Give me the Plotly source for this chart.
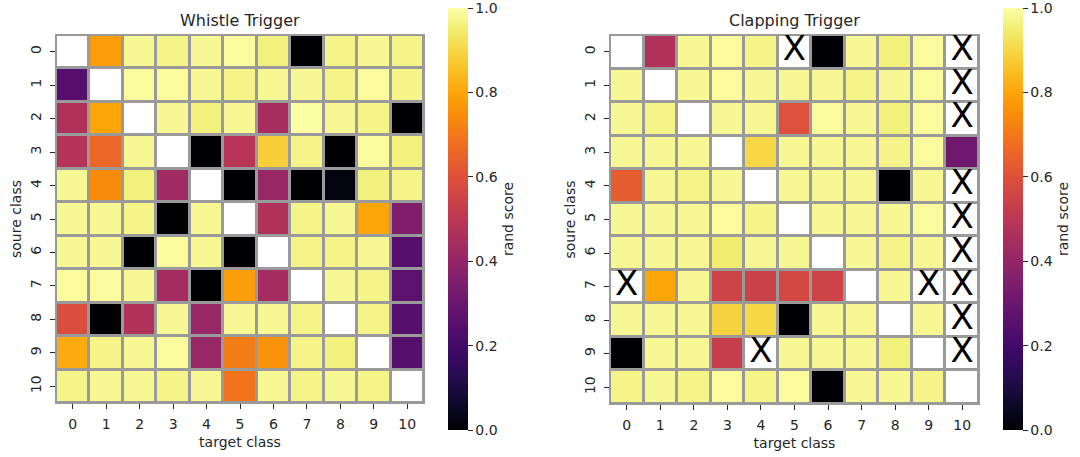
import numpy as np
import plotly.graph_objects as go

classes = [str(i) for i in range(11)]
N = np.nan

whistle = [
    [N, 0.78, 0.98, 0.97, 0.98, 0.99, 0.96, 0.00, 0.97, 0.98, 0.97],
    [0.25, N, 0.99, 0.99, 0.98, 0.97, 0.98, 0.98, 0.97, 0.99, 0.97],
    [0.47, 0.80, N, 0.98, 0.96, 0.98, 0.45, 1.00, 0.98, 0.97, 0.00],
    [0.48, 0.66, 0.98, N, 0.00, 0.49, 0.88, 0.97, 0.00, 0.99, 0.96],
    [0.98, 0.74, 0.96, 0.43, N, 0.00, 0.41, 0.00, 0.02, 0.96, 0.97],
    [0.98, 0.98, 0.97, 0.00, 0.98, N, 0.47, 0.97, 0.98, 0.80, 0.35],
    [0.98, 0.98, 0.00, 0.99, 0.98, 0.00, N, 0.97, 0.97, 0.98, 0.25],
    [0.99, 0.99, 0.98, 0.44, 0.00, 0.78, 0.44, N, 0.98, 0.97, 0.26],
    [0.59, 0.00, 0.47, 0.98, 0.41, 0.98, 0.98, 0.97, N, 0.97, 0.25],
    [0.81, 0.97, 0.98, 0.99, 0.41, 0.71, 0.76, 0.97, 0.96, N, 0.25],
    [0.97, 0.98, 0.98, 0.97, 0.98, 0.69, 0.98, 0.97, 0.98, 0.97, N],
]

clapping = [
    [N, 0.47, 0.98, 0.99, 0.97, N, 0.00, 0.98, 0.96, 0.99, N],
    [0.98, N, 0.98, 0.99, 0.98, 0.98, 0.98, 0.97, 0.98, 0.99, N],
    [0.98, 0.97, N, 0.98, 0.98, 0.60, 0.99, 0.98, 0.96, 0.99, N],
    [0.98, 0.98, 0.98, N, 0.90, 0.98, 0.98, 0.98, 0.97, 0.99, 0.31],
    [0.63, 0.98, 0.97, 0.98, N, 0.98, 0.98, 0.98, 0.00, 0.98, N],
    [0.98, 0.98, 0.98, 0.99, 0.97, N, 0.98, 0.98, 0.98, 0.99, N],
    [0.98, 0.98, 0.98, 0.95, 0.98, 0.98, N, 0.98, 0.97, 0.98, N],
    [N, 0.80, 0.98, 0.55, 0.54, 0.57, 0.55, N, 0.98, N, N],
    [0.98, 0.98, 0.98, 0.89, 0.90, 0.00, 0.98, 0.98, N, 0.98, N],
    [0.00, 0.98, 0.98, 0.53, N, 0.98, 0.98, 0.98, 0.96, N, N],
    [0.97, 0.98, 0.97, 0.99, 0.97, 0.99, 0.00, 0.98, 0.98, 0.97, N],
]

# (row, col) cells of the clapping matrix marked with an X
clap_x_rows = [0, 0, 1, 2, 4, 5, 6, 7, 7, 7, 8, 9, 9]
clap_x_cols = [5, 10, 10, 10, 10, 10, 10, 0, 9, 10, 10, 4, 10]

titles = ["Whistle Trigger", "Clapping Trigger"]
x_title = "target class"
y_title = "soure class"
cbar_title = "rand score"

# finer inferno colour scale (matplotlib-like)
INFERNO = [
    [0.00, "#000004"], [0.05, "#0a0722"], [0.10, "#1b0c41"], [0.15, "#300a5b"],
    [0.20, "#420a68"], [0.25, "#570f6d"], [0.30, "#6a176e"], [0.35, "#7f1e6c"],
    [0.40, "#932667"], [0.45, "#a82e5f"], [0.50, "#bc3754"], [0.55, "#cd4347"],
    [0.60, "#dd513a"], [0.65, "#ea632a"], [0.70, "#f37819"], [0.75, "#f98e09"],
    [0.80, "#fca50a"], [0.85, "#f9be24"], [0.90, "#f6d746"], [0.95, "#f1ed71"],
    [0.975, "#f6f68f"], [1.00, "#fcffa4"],
]

W, H = 1080, 457
GRID = "#9a9a9a"
FONT = "DejaVu Sans"
TXT = "#262626"

fig = go.Figure()

def px_x(p):
    return p / W

def px_y(p):
    return 1 - p / H

panels = [
    dict(data=whistle, x0=56, x1=424, y0=35, y1=403, cb_x=448, ax="", cax="coloraxis"),
    dict(data=clapping, x0=610, x1=979, y0=35, y1=404, cb_x=1003, ax="2", cax="coloraxis2"),
]

for i, p in enumerate(panels):
    z = np.array(p["data"], dtype=float)
    xa = "x" + p["ax"]
    ya = "y" + p["ax"]
    # white under-layer (shows for empty cells)
    fig.add_trace(go.Heatmap(
        z=np.ones_like(z), x=list(range(11)), y=list(range(11)),
        colorscale=[[0, "white"], [1, "white"]], showscale=False,
        xgap=3, ygap=3, hoverinfo="skip", xaxis=xa, yaxis=ya))
    fig.add_trace(go.Heatmap(
        z=z, x=list(range(11)), y=list(range(11)),
        coloraxis=p["cax"], xgap=3, ygap=3, xaxis=xa, yaxis=ya))

fig.add_trace(go.Scatter(
    x=clap_x_cols, y=clap_x_rows, mode="text", text=["X"] * len(clap_x_cols),
    textfont=dict(family=FONT, size=34, color="black"),
    textposition="middle center", hoverinfo="skip", showlegend=False,
    xaxis="x2", yaxis="y2"))

layout = dict(
    width=W, height=H,
    margin=dict(l=0, r=0, t=0, b=0, autoexpand=False),
    paper_bgcolor="white",
    plot_bgcolor=GRID,
    font=dict(family=FONT, size=14, color=TXT),
    showlegend=False,
    annotations=[],
)

for i, p in enumerate(panels):
    xk = "xaxis" + p["ax"]
    yk = "yaxis" + p["ax"]
    layout[xk] = dict(
        domain=[px_x(p["x0"]), px_x(p["x1"])],
        range=[-0.5, 10.5], tickmode="array", tickvals=list(range(11)), ticktext=classes,
        ticks="outside", ticklen=5, tickwidth=1, tickcolor=TXT, ticklabelstandoff=3,
        showgrid=False, zeroline=False, showline=True, linecolor=GRID, linewidth=1, mirror=True,
        anchor="y" + p["ax"], automargin=False,
        title=dict(text=x_title, font=dict(size=14), standoff=6),
        tickfont=dict(size=14),
    )
    layout[yk] = dict(
        domain=[px_y(p["y1"]), px_y(p["y0"])],
        range=[10.5, -0.5], tickmode="array", tickvals=list(range(11)), ticktext=classes,
        ticks="outside", ticklen=5, tickwidth=1, tickcolor=TXT, tickangle=-90, ticklabelstandoff=3,
        showgrid=False, zeroline=False, showline=True, linecolor=GRID, linewidth=1, mirror=True,
        anchor="x" + p["ax"], automargin=False,
        title=dict(text=y_title, font=dict(size=14), standoff=3),
        tickfont=dict(size=14),
    )
    layout[p["cax"]] = dict(
        cmin=0, cmax=1, colorscale=INFERNO,
        colorbar=dict(
            x=px_x(p["cb_x"]), xanchor="left", xpad=0, ypad=0,
            y=px_y(8), yanchor="top", len=(430 - 8) / H, lenmode="fraction",
            thickness=20, outlinewidth=0, ticklabeloverflow="allow",
            tickmode="array", tickvals=[0, 0.2, 0.4, 0.6, 0.8, 1.0],
            ticktext=["0.0", "0.2", "0.4", "0.6", "0.8", "1.0"],
            ticks="outside", ticklen=5, tickcolor=TXT, tickfont=dict(size=14),
            title=dict(text=cbar_title, side="right", font=dict(size=14)),
        ),
    )
    layout["annotations"].append(dict(
        text=titles[i], x=(px_x(p["x0"]) + px_x(p["x1"])) / 2, y=px_y(20),
        xref="paper", yref="paper", showarrow=False, xanchor="center", yanchor="middle",
        font=dict(size=16)))

fig.update_layout(**layout)
fig.write_html("out.html", config={"displayModeBar": False},
               post_script="document.body.style.margin='0';")
